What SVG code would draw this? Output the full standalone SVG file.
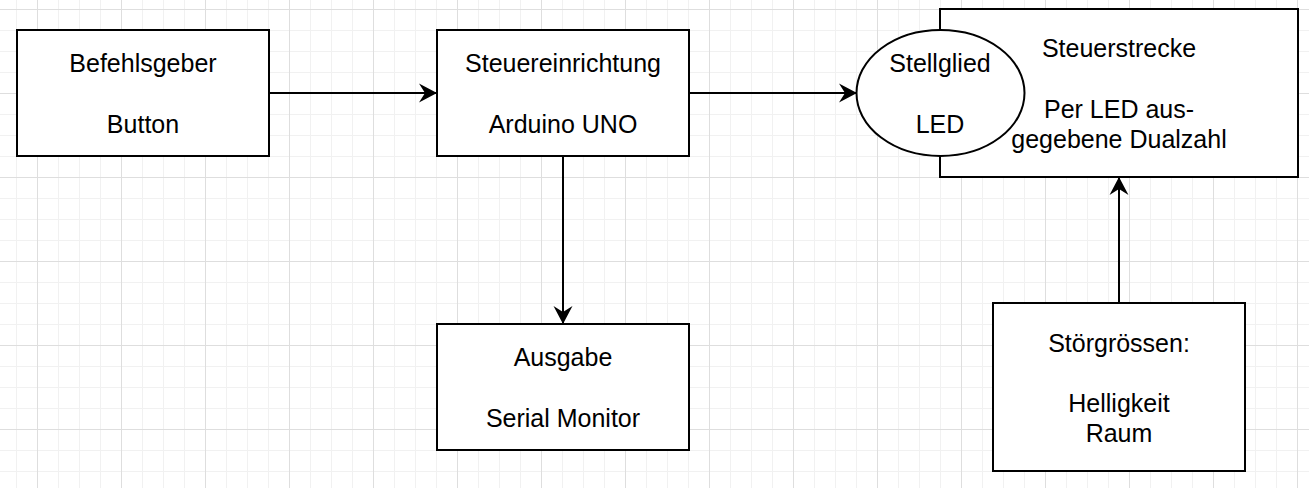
<svg xmlns="http://www.w3.org/2000/svg" width="1309" height="488" viewBox="0 0 1309 488">
  <style>
    .box { fill: #ffffff; stroke: #000000; stroke-width: 2; }
    .lbl { font-family: "Liberation Sans", Arial, sans-serif; font-size: 25px; fill: #000000; text-anchor: middle; }
    .edge { fill: none; stroke: #000000; stroke-width: 2; marker-end: url(#arr); }
  </style>
  <defs>
    <pattern id="grid" patternUnits="userSpaceOnUse" x="37" y="9" width="84" height="84">
      <path d="M21.5,0 V84 M42.5,0 V84 M63.5,0 V84 M0,21.5 H84 M0,42.5 H84 M0,63.5 H84" stroke="#f1f1f1" stroke-width="1" fill="none"/>
      <path d="M0.5,0 V84 M0,0.5 H84" stroke="#dedede" stroke-width="1" fill="none"/>
    </pattern>
    <marker id="arr" markerUnits="userSpaceOnUse" viewBox="0 0 20 20" markerWidth="20" markerHeight="20" refX="18" refY="10" orient="auto">
      <path d="M18,10 L0,0.5 L6,10 L0,19.5 Z" fill="#000000"/>
    </marker>
  </defs>
  <rect x="0" y="0" width="1309" height="488" fill="#ffffff"/>
  <rect x="0" y="0" width="1309" height="488" fill="url(#grid)"/>

  <g id="connectors">
    <path class="edge" d="M269,93 H437"/>
    <path class="edge" d="M689,93 H857"/>
    <path class="edge" d="M563,156 V324"/>
    <path class="edge" d="M1119,303 V177"/>
  </g>

  <g id="befehlsgeber">
    <rect class="box" x="17" y="30" width="252" height="126"/>
    <text class="lbl" x="143" y="72">Befehlsgeber</text>
    <text class="lbl" x="143" y="133">Button</text>
  </g>

  <g id="steuereinrichtung">
    <rect class="box" x="437" y="30" width="252" height="126"/>
    <text class="lbl" x="563" y="72">Steuereinrichtung</text>
    <text class="lbl" x="563" y="133">Arduino UNO</text>
  </g>

  <g id="ausgabe">
    <rect class="box" x="437" y="324" width="252" height="126"/>
    <text class="lbl" x="563" y="366">Ausgabe</text>
    <text class="lbl" x="563" y="427">Serial Monitor</text>
  </g>

  <g id="steuerstrecke">
    <rect class="box" x="940" y="9" width="358" height="168"/>
    <text class="lbl" x="1119" y="57">Steuerstrecke</text>
    <text class="lbl" x="1119" y="118">Per LED aus-</text>
    <text class="lbl" x="1119" y="148">gegebene Dualzahl</text>
  </g>

  <g id="stellglied">
    <ellipse class="box" cx="940.5" cy="93" rx="84" ry="63"/>
    <text class="lbl" x="940" y="72">Stellglied</text>
    <text class="lbl" x="940" y="133">LED</text>
  </g>

  <g id="stoergroessen">
    <rect class="box" x="993" y="303" width="252" height="168"/>
    <text class="lbl" x="1119" y="352">Störgrössen:</text>
    <text class="lbl" x="1119" y="412">Helligkeit</text>
    <text class="lbl" x="1119" y="442">Raum</text>
  </g>
</svg>
